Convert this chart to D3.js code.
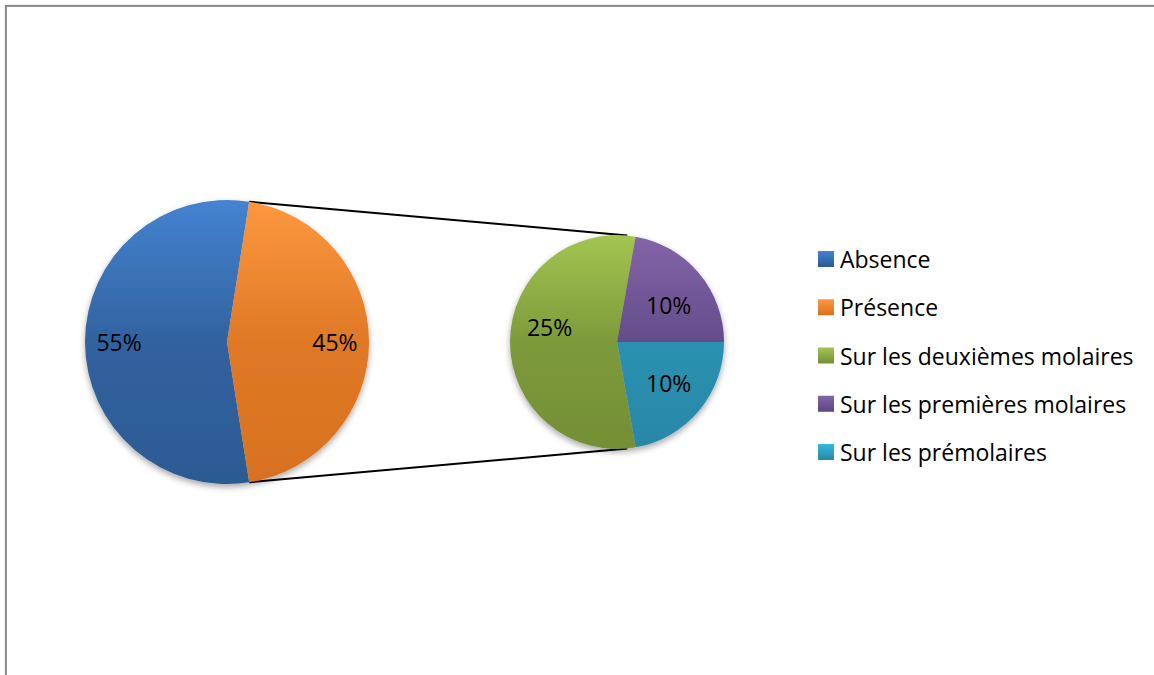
<!DOCTYPE html>
<html>
<head>
<meta charset="utf-8">
<script src="https://cdn.jsdelivr.net/npm/d3@7"></script>
<style>
  html, body { margin: 0; padding: 0; background: #fff; overflow: hidden; }
  svg { display: block; }
  text { font-family: "Open Sans", "Lato", sans-serif; fill: #000; }
</style>
</head>
<body>
<svg id="chart" width="1154" height="675"></svg>
<script>
// ---- Data ----
const mainCategories = ["Absence", "Présence"];
const mainValues = [55, 45];
const subCategories = ["Sur les deuxièmes molaires", "Sur les premières molaires", "Sur les prémolaires"];
const subValues = [25, 10, 10];
const legendLabels = ["Absence", "Présence", "Sur les deuxièmes molaires", "Sur les premières molaires", "Sur les prémolaires"];
const colorsTop = ["#4583d0", "#fd9840", "#a3c551", "#8465a8", "#35b9dc"];
const colorsBottom = ["#2c5a93", "#d8711f", "#748f35", "#5c4683", "#2a87a6"];

const svg = d3.select("#chart");

// border
svg.append("rect").attr("x", 5.9).attr("y", 5.9).attr("width", 1300).attr("height", 800)
  .attr("fill", "#fff").attr("stroke", "#898989").attr("stroke-width", 2);

const defs = svg.append("defs");
const shadow = defs.append("filter").attr("id", "shadow").attr("x", "-20%").attr("y", "-20%").attr("width", "140%").attr("height", "140%");
shadow.append("feDropShadow").attr("dx", 0).attr("dy", 3).attr("stdDeviation", 3).attr("flood-color", "#000").attr("flood-opacity", 0.35);

function makeGrad(id, i, y0, y1) {
  const g = defs.append("linearGradient").attr("id", id)
    .attr("gradientUnits", "userSpaceOnUse").attr("x1", 0).attr("x2", 0).attr("y1", y0).attr("y2", y1);
  g.append("stop").attr("offset", 0).attr("stop-color", colorsTop[i]);
  g.append("stop").attr("offset", 0.5).attr("stop-color", d3.interpolateRgb(colorsTop[i], colorsBottom[i])(0.8));
  g.append("stop").attr("offset", 1).attr("stop-color", colorsBottom[i]);
  return `url(#${id})`;
}

const deg = Math.PI / 180;
const cx1 = 227, cy1 = 342, r1 = 142;
const cx2 = 617, cy2 = 342, r2 = 107;

const mainTotal = d3.sum(mainValues);
const presHalf = (mainValues[1] / mainTotal) * Math.PI;
const mainStart = Math.PI / 2 + presHalf;

const pieMain = d3.pie().sort(null).value(d => d)
  .startAngle(mainStart).endAngle(mainStart + 2 * Math.PI);
const arcsMain = pieMain(mainValues);

const subTotal = d3.sum(subValues);
const purpleStart = 10 * deg;
const greenStart = purpleStart + 2 * Math.PI * (subValues[1] + subValues[2]) / subTotal;
const pieSub = d3.pie().sort(null).value(d => d)
  .startAngle(greenStart).endAngle(greenStart + 2 * Math.PI);
const arcsSub = pieSub(subValues);

const arc1 = d3.arc().innerRadius(0).outerRadius(r1);
const arc2 = d3.arc().innerRadius(0).outerRadius(r2);

// connector lines
const pMainTop = d3.pointRadial(arcsMain[1].startAngle, r1);
const pMainBot = d3.pointRadial(arcsMain[1].endAngle, r1);
const pSubTop = d3.pointRadial(5.5 * deg, r2);
const pSubBot = d3.pointRadial(174.5 * deg, r2);
const connectors = svg.append("g").attr("class", "connectors");
[[pMainTop, pSubTop], [pMainBot, pSubBot]].forEach(([a, b]) => {
  connectors.append("line")
    .attr("x1", cx1 + a[0]).attr("y1", cy1 + a[1])
    .attr("x2", cx2 + b[0]).attr("y2", cy2 + b[1])
    .attr("stroke", "#000").attr("stroke-width", 2);
});

// main pie
const gMain = svg.append("g").attr("transform", `translate(${cx1},${cy1})`).attr("filter", "url(#shadow)");
gMain.selectAll("path").data(arcsMain).join("path")
  .attr("d", arc1)
  .attr("fill", (d, i) => makeGrad("gm" + i, i, -r1, r1));
const gSub = svg.append("g").attr("transform", `translate(${cx2},${cy2})`).attr("filter", "url(#shadow)");
gSub.selectAll("path").data(arcsSub).join("path")
  .attr("d", arc2)
  .attr("fill", (d, i) => makeGrad("gs" + i, i + 2, -r2, r2));

// labels
const fmt = v => Math.round(v) + "%";
const labelArc1 = d3.arc().innerRadius(r1 * 0.76).outerRadius(r1 * 0.76);
const labelArc2 = d3.arc().innerRadius(r2 * 0.63).outerRadius(r2 * 0.63);
const fs = 23;
const subNudge = [-15, 6, -2];
svg.append("g").attr("transform", `translate(${cx1},${cy1})`)
  .selectAll("text").data(arcsMain).join("text")
  .attr("transform", d => `translate(${labelArc1.centroid(d)})`)
  .attr("text-anchor", "middle").attr("dominant-baseline", "central")
  .style("font-size", fs + "px")
  .text(d => fmt(d.data / mainTotal * 100));
svg.append("g").attr("transform", `translate(${cx2},${cy2})`)
  .selectAll("text").data(arcsSub).join("text")
  .attr("transform", (d, i) => {
    const c = labelArc2.centroid(d);
    c[1] += subNudge[i];
    return `translate(${c})`;
  })
  .attr("text-anchor", "middle").attr("dominant-baseline", "central")
  .style("font-size", fs + "px")
  .text(d => fmt(d.data / mainTotal * 100));

// legend
const legendY = d3.scalePoint().domain(legendLabels).range([259, 452]);
const lg = svg.append("g");
legendLabels.forEach((lab, i) => {
  const y = legendY(lab);
  const gid = "lg" + i;
  const g = defs.append("linearGradient").attr("id", gid).attr("x1", 0).attr("x2", 0).attr("y1", 0).attr("y2", 1);
  g.append("stop").attr("offset", 0).attr("stop-color", colorsTop[i]);
  g.append("stop").attr("offset", 1).attr("stop-color", colorsBottom[i]);
  lg.append("rect").attr("x", 818).attr("y", y - 8).attr("width", 16).attr("height", 16).attr("fill", `url(#${gid})`);
  lg.append("text").attr("x", 840).attr("y", y).attr("dominant-baseline", "central")
    .style("font-size", fs + "px").text(lab);
});
</script>
</body>
</html>
